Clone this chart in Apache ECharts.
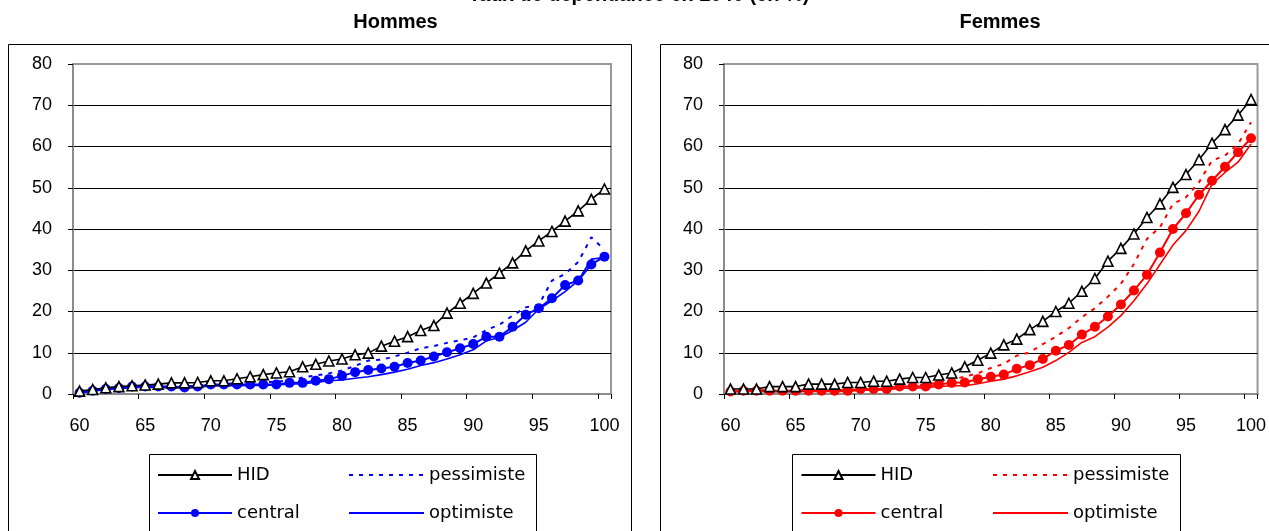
<!DOCTYPE html>
<html>
<head>
<meta charset="utf-8">
<script src="https://cdn.jsdelivr.net/npm/echarts@6/dist/echarts.min.js"></script>
<style>
html,body{margin:0;padding:0;background:#fff;}
#chart{width:1269px;height:531px;}
</style>
</head>
<body>
<div id="chart"></div>
<script>
const ages = ['60','61','62','63','64','65','66','67','68','69','70','71','72','73','74','75','76','77','78','79','80','81','82','83','84','85','86','87','88','89','90','91','92','93','94','95','96','97','98','99','100'];

// Hommes
const hidH = [0.7,1.1,1.5,1.8,2.0,2.2,2.4,2.7,2.7,2.8,3.2,3.2,3.7,4.2,4.7,5.1,5.4,6.6,7.2,8.0,8.5,9.5,9.9,11.6,12.8,13.9,15.4,16.6,19.6,22.0,24.4,26.9,29.3,31.8,34.7,37.1,39.4,41.9,44.4,47.2,49.7];
const pessH = [0.4,0.9,1.3,1.6,1.9,1.9,1.9,2.0,1.9,2.0,2.5,2.5,2.6,2.7,2.8,3.0,3.3,4.0,4.5,5.0,5.7,6.8,8.1,8.3,9.1,10.0,11.1,11.6,12.4,13.0,13.7,15.5,16.8,19.0,21.0,21.6,27.5,29.1,32.0,38.0,35.0];
const centralH = [0.3,0.8,1.2,1.45,1.8,1.8,1.8,1.8,1.6,1.8,2.3,2.3,2.3,2.3,2.3,2.3,2.7,2.7,3.2,3.6,4.4,5.3,5.8,6.2,6.6,7.5,8.1,9.1,10.1,11.1,12.1,13.9,13.9,16.3,19.2,20.8,23.2,26.4,27.5,31.4,33.3];
const optH = [0.3,0.7,1.1,1.3,1.6,1.6,1.6,1.6,1.5,1.6,2.0,2.0,2.0,2.1,2.1,2.2,2.4,2.5,2.8,3.2,3.4,3.8,4.2,4.7,5.3,6.0,6.9,7.6,8.5,9.5,10.7,12.9,13.7,15.4,17.4,20.6,22.6,24.8,27.5,32.7,33.1];

// Femmes
const hidF = [1.2,1.2,1.2,1.8,1.8,1.8,2.4,2.4,2.4,2.8,2.8,3.1,3.1,3.6,4.0,4.0,4.6,5.1,6.6,8.2,9.9,11.9,13.3,15.6,17.6,20.0,22.0,24.9,28.0,32.2,35.3,38.8,42.8,46.1,50.1,53.2,56.8,60.8,64.1,67.6,71.4];
const pessF = [0.7,0.9,0.9,0.9,0.9,0.9,0.9,0.9,0.9,0.9,1.3,1.3,1.4,2.0,2.1,2.2,2.8,3.5,4.2,5.0,6.3,7.3,9.3,10.1,12.1,13.9,16.0,18.6,20.8,23.6,26.7,31.5,37.6,40.4,46.1,47.7,51.3,56.6,57.8,60.6,65.9];
const centralF = [0.6,0.8,0.8,0.8,0.8,0.8,0.8,0.8,0.8,0.8,1.2,1.2,1.2,1.8,1.8,1.8,2.3,2.7,2.8,3.6,4.2,4.7,6.1,7.0,8.5,10.5,11.9,14.4,16.3,18.8,21.7,25.1,28.9,34.3,40.0,43.8,48.3,51.7,55.1,58.6,62.0];
const optF = [0.5,0.6,0.6,0.6,0.6,0.6,0.6,0.6,0.6,0.6,0.9,0.9,1.0,1.4,1.4,1.5,1.8,2.0,2.0,2.5,3.1,3.6,4.4,5.4,6.5,8.1,10.1,12.5,13.9,16.2,19.0,22.6,26.7,31.4,36.1,39.6,44.3,50.9,53.7,56.2,60.6];

const yTicks = [0,10,20,30,40,50,60,70,80];

const mainTitle = 'Taux de dépendance en 2040 (en %)';
const panelTitles = ['Hommes','Femmes'];

const FONT = '"Liberation Sans", Arial, sans-serif';
const LFONT = '"DejaVu Sans", sans-serif';

const chart = echarts.init(document.getElementById('chart'), null, {renderer:'canvas'});

function xAxis(gi){
  return {
    type:'category', gridIndex:gi, data:ages, boundaryGap:true,
    axisLine:{show:true, lineStyle:{color:'#8c8c8c', width:2}},
    axisTick:{show:true, interval:4, length:5, inside:false, lineStyle:{color:'#000', width:1}},
    axisLabel:{interval:4, fontFamily:FONT, fontSize:18, color:'#000', margin:23},
    splitLine:{show:false}
  };
}
function yAxis(gi){
  return {
    type:'value', gridIndex:gi, min:yTicks[0], max:yTicks[yTicks.length-1], interval:10,
    axisLine:{show:true, lineStyle:{color:'#8c8c8c', width:2}},
    axisTick:{show:true, length:5, inside:false, lineStyle:{color:'#000', width:1}},
    axisLabel:{fontFamily:FONT, fontSize:18, color:'#000', margin:21},
    splitLine:{show:true, lineStyle:{color:['#8c8c8c','#000','#000','#000','#000','#000','#000','#000','#999'], width:1}}
  };
}
function mkSeries(suffix, gi, color, hid, pess, central, opt){
  return [
    {name:'pessimiste'+suffix, type:'line', xAxisIndex:gi, yAxisIndex:gi, data:pess, symbol:'none',
     lineStyle:{color:color, width:2, type:[4,6]}, itemStyle:{color:color}, z:2, animation:false},
    {name:'optimiste'+suffix, type:'line', xAxisIndex:gi, yAxisIndex:gi, data:opt, symbol:'none',
     lineStyle:{color:color, width:1.6}, itemStyle:{color:color}, z:3, animation:false},
    {name:'central'+suffix, type:'line', xAxisIndex:gi, yAxisIndex:gi, data:central, symbol:'circle', symbolSize:10, showAllSymbol:true,
     lineStyle:{color:color, width:2}, itemStyle:{color:color, borderWidth:0}, z:4, animation:false},
    {name:'HID'+suffix, type:'line', xAxisIndex:gi, yAxisIndex:gi, data:hid, symbol:'triangle', symbolSize:10, showAllSymbol:true,
     lineStyle:{color:'#000', width:1.6}, itemStyle:{color:'#fff', borderColor:'#000', borderWidth:1.6}, z:5, animation:false}
  ];
}
function legend(names, left, width, noMarker){
  return {
    data:names.map(function(n){ return noMarker ? {name:n, itemStyle:{opacity:0}} : {name:n}; }),
    orient:'vertical', left:left, top:465, padding:0,
    itemWidth:width, itemHeight:10, itemGap:18, selectedMode:false,
    formatter:function(n){return n.trim();},
    textStyle:{fontFamily:LFONT, fontSize:18, lineHeight:20, color:'#000'}
  };
}

const option = {
  backgroundColor:'#fff',
  animation:false,
  grid:[
    {left:73, top:64, width:538, height:330, show:true, borderColor:'#999', borderWidth:2, backgroundColor:'transparent', containLabel:false},
    {left:724, top:64, width:538, height:330, show:true, borderColor:'#999', borderWidth:2, backgroundColor:'transparent', containLabel:false}
  ],
  xAxis:[xAxis(0), xAxis(1)],
  yAxis:[yAxis(0), yAxis(1)],
  legend:[
    legend(['HID','central'], 157, 74, false),
    legend(['pessimiste','optimiste'], 348, 75, true),
    legend(['HID ','central '], 800.5, 74, false),
    legend(['pessimiste ','optimiste '], 992, 75, true)
  ],
  graphic:[
    {type:'rect', silent:true, z:-10, shape:{x:8.5, y:44.5, width:623, height:520}, style:{fill:'none', stroke:'#000', lineWidth:1}},
    {type:'rect', silent:true, z:-10, shape:{x:660.5, y:44.5, width:700, height:520}, style:{fill:'none', stroke:'#000', lineWidth:1}},
    {type:'rect', silent:true, z:-10, shape:{x:149.5, y:454.5, width:387, height:120}, style:{fill:'none', stroke:'#000', lineWidth:1}},
    {type:'rect', silent:true, z:-10, shape:{x:792.5, y:454.5, width:388, height:120}, style:{fill:'none', stroke:'#000', lineWidth:1}},
    {type:'text', silent:true, x:639, y:-5, style:{text:mainTitle, font:'bold 20px "Liberation Sans", Arial, sans-serif', fill:'#000', align:'center', verticalAlign:'middle'}},
    {type:'text', silent:true, x:395.5, y:22, style:{text:panelTitles[0], font:'bold 20px "Liberation Sans", Arial, sans-serif', fill:'#000', align:'center', verticalAlign:'middle'}},
    {type:'text', silent:true, x:1000, y:22, style:{text:panelTitles[1], font:'bold 20px "Liberation Sans", Arial, sans-serif', fill:'#000', align:'center', verticalAlign:'middle'}}
  ],
  series:[].concat(
    mkSeries('', 0, '#0000ff', hidH, pessH, centralH, optH),
    mkSeries(' ', 1, '#ff0000', hidF, pessF, centralF, optF)
  )
};
chart.setOption(option);
</script>
</body>
</html>
